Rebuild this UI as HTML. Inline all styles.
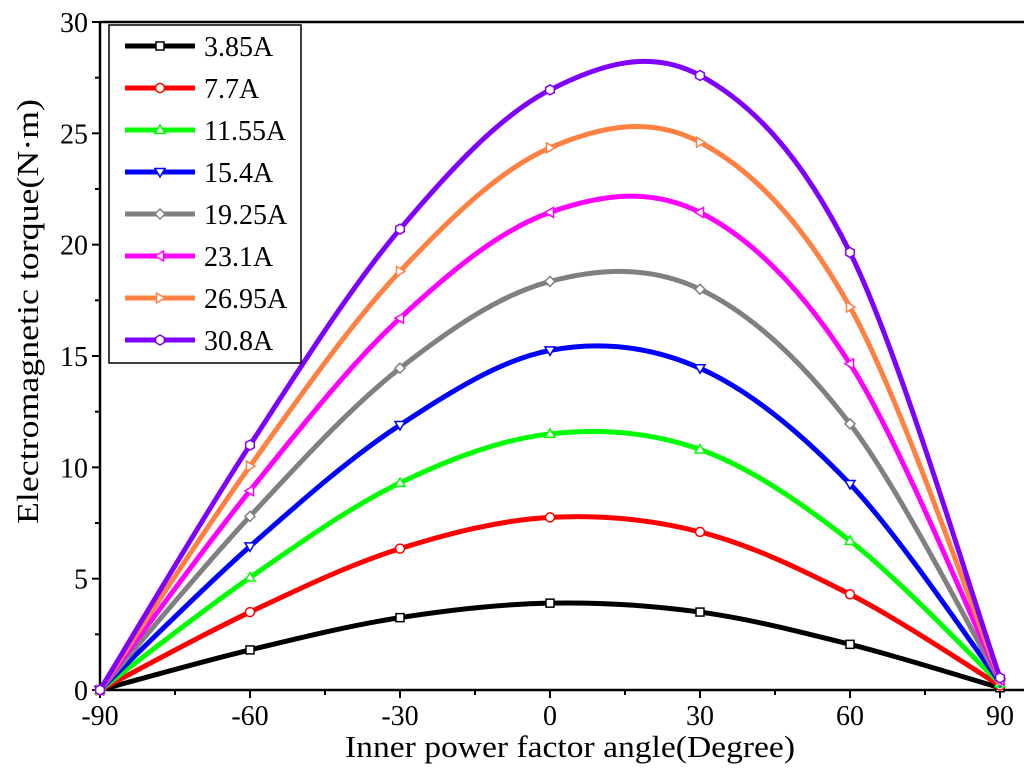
<!DOCTYPE html>
<html><head><meta charset="utf-8"><style>
body{margin:0;background:#fff;}
svg{display:block;font-family:"Liberation Serif",serif;}
</style></head><body>
<svg id="chart" width="1024" height="778"></svg>
<script>
const angles=[-90,-60,-30,0,30,60,90];
const seriesNames=["3.85A","7.7A","11.55A","15.4A","19.25A","23.1A","26.95A","30.8A"];
const s1=[0,1.8,3.25,3.9,3.5,2.05,0.1];
const s2=[0,3.5,6.35,7.75,7.1,4.3,0.2];
const s3=[0,5.05,9.3,11.5,10.8,6.7,0.3];
const s4=[0,6.45,11.9,15.25,14.45,9.25,0.35];
const s5=[0,7.8,14.45,18.35,18.0,11.95,0.4];
const s6=[0,8.95,16.7,21.45,21.45,14.65,0.45];
const s7=[0,10.05,18.8,24.35,24.6,17.2,0.5];
const s8=[0,11.0,20.7,26.95,27.6,19.65,0.55];
const xTicks=[-90,-60,-30,0,30,60,90];
const yTicks=[0,5,10,15,20,25,30];
const colors=["#000000","#ff0000","#00ff00","#0000ff","#808080","#ff00ff","#ff8040","#8000ff"];
const markers=["square","circle","up","down","diamond","left","right","hex"];
const all=[s1,s2,s3,s4,s5,s6,s7,s8];
const X0=100,X1=1000,Y0=690,Y1=22;
const xs=v=>X0+(v+90)/180*(X1-X0);
const ys=v=>Y0-v/30*(Y0-Y1);
const NS="http://www.w3.org/2000/svg";
const svg=document.getElementById('chart');
function el(t,a,p){const e=document.createElementNS(NS,t);for(const k in a)e.setAttribute(k,a[k]);(p||svg).appendChild(e);return e;}
const frame=el('path',{d:`M${X0},${Y1}L${X0},${Y0}L${X1+24},${Y0}M${X0},${Y1}L${X1+24},${Y1}`,fill:'none',stroke:'#000','stroke-width':2.5});


xTicks.forEach((t,i)=>{
  const x=xs(t);
  el('line',{x1:x,y1:Y0,x2:x,y2:Y0+8,stroke:'#000','stroke-width':2});
  if(i<xTicks.length-1){const xm=xs(t+15);el('line',{x1:xm,y1:Y0,x2:xm,y2:Y0+5,stroke:'#000','stroke-width':2});}
  const tx=el('text',{x:x,y:Y0+35,'text-anchor':'middle','font-size':28});
  tx.textContent=t;
  
  
});
yTicks.forEach((t,i)=>{
  const y=ys(t);
  el('line',{x1:X0,y1:y,x2:X0-8,y2:y,stroke:'#000','stroke-width':2});
  if(i<yTicks.length-1){const ym=ys(t+2.5);el('line',{x1:X0,y1:ym,x2:X0-5,y2:ym,stroke:'#000','stroke-width':2});}
  const tx=el('text',{x:X0-12,y:y+10,'text-anchor':'end','font-size':28});
  tx.textContent=t;
  
  
});
const xt=el('text',{x:345,y:757,'font-size':31,textLength:450,lengthAdjust:'spacingAndGlyphs'});
xt.textContent="Inner power factor angle(Degree)";


const yt=el('text',{x:0,y:0,'font-size':31,textLength:425,lengthAdjust:'spacingAndGlyphs',transform:'translate(38,524) rotate(-90)'});
yt.textContent="Electromagnetic torque(N·m)";


function marker(type,x,y,c,g){
  const r=5,a={fill:'#fff',stroke:c,'stroke-width':1.5};
  let m;
  if(type=='square')m=el('rect',Object.assign({x:x-r+1,y:y-r+1,width:2*r-2,height:2*r-2},a),g);
  else if(type=='circle')m=el('circle',Object.assign({cx:x,cy:y,r:r-0.5},a),g);
  else{
    let p;
    if(type=='up')p=[[0,-r],[r,r*0.7],[-r,r*0.7]];
    if(type=='down')p=[[0,r],[r,-r*0.7],[-r,-r*0.7]];
    if(type=='left')p=[[-r,0],[r*0.7,-r],[r*0.7,r]];
    if(type=='right')p=[[r,0],[-r*0.7,-r],[-r*0.7,r]];
    if(type=='diamond')p=[[0,-r],[r,0],[0,r],[-r,0]];
    if(type=='hex'){p=[];for(let i=0;i<6;i++){const an=Math.PI/3*i+Math.PI/6;p.push([r*Math.cos(an),r*Math.sin(an)]);}}
    m=el('polygon',Object.assign({points:p.map(q=>(x+q[0])+','+(y+q[1])).join(' ')},a),g);
  }
  
  
}
function spline(pts){
  let d=`M${pts[0][0]},${pts[0][1]}`;
  for(let i=0;i<pts.length-1;i++){
    const p0=pts[Math.max(i-1,0)],p1=pts[i],p2=pts[i+1],p3=pts[Math.min(i+2,pts.length-1)];
    const c1=[p1[0]+(p2[0]-p0[0])/6,p1[1]+(p2[1]-p0[1])/6];
    const c2=[p2[0]-(p3[0]-p1[0])/6,p2[1]-(p3[1]-p1[1])/6];
    d+=`C${c1[0]},${c1[1]} ${c2[0]},${c2[1]} ${p2[0]},${p2[1]}`;
  }
  return d;
}
all.forEach((s,i)=>{
  const g=el('g',{});
  
  
  const pts=angles.map((a,j)=>[xs(a),ys(s[j])]);
  const path=el('path',{d:spline(pts),fill:'none',stroke:colors[i],'stroke-width':5},g);
  
  
  pts.forEach(p=>marker(markers[i],p[0],p[1],colors[i],g));
});
const lg=el('g',{});


el('rect',{x:109,y:25,width:192,height:338,fill:'#fff',stroke:'#000','stroke-width':1.5},lg);
seriesNames.forEach((n,i)=>{
  const y=46+i*42;
  const e=el('g',{},lg);
  
  
  el('line',{x1:125,y1:y,x2:195,y2:y,stroke:colors[i],'stroke-width':5},e);
  marker(markers[i],160,y,colors[i],e);
  const t=el('text',{x:204,y:y+10,'font-size':28},e);
  t.textContent=n;
});
</script>
</body></html>
